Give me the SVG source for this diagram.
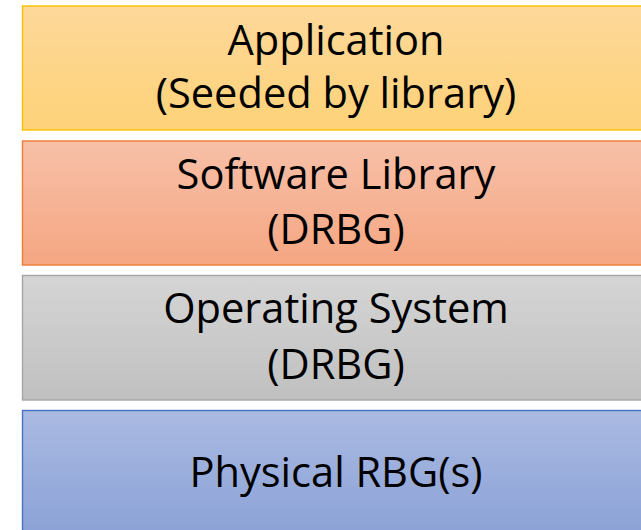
<svg xmlns="http://www.w3.org/2000/svg" width="641" height="530" viewBox="0 0 641 530">
  <defs>
    <linearGradient id="gApp" x1="0" y1="0" x2="0" y2="1">
      <stop offset="0" stop-color="#FDD899"/>
      <stop offset="1" stop-color="#FED279"/>
    </linearGradient>
    <linearGradient id="gLib" x1="0" y1="0" x2="0" y2="1">
      <stop offset="0" stop-color="#F7C0A8"/>
      <stop offset="1" stop-color="#F5A682"/>
    </linearGradient>
    <linearGradient id="gOs" x1="0" y1="0" x2="0" y2="1">
      <stop offset="0" stop-color="#D5D5D5"/>
      <stop offset="1" stop-color="#C0C0C0"/>
    </linearGradient>
    <linearGradient id="gPhy" x1="0" y1="0" x2="0" y2="1">
      <stop offset="0" stop-color="#AABAE2"/>
      <stop offset="1" stop-color="#8AA1D6"/>
    </linearGradient>
  </defs>
  <style>
    .layer { stroke-width: 1.4; }
    .label { font-family: "Open Sans", "Liberation Sans", sans-serif; font-size: 41.6px; fill: #000; text-anchor: middle; }
  </style>
  <rect width="641" height="530" fill="#FFFFFF"/>

  <g id="application">
    <rect class="layer" x="22.5" y="6" width="640" height="124" fill="url(#gApp)" stroke="#FFC000"/>
    <text class="label" x="336" y="55">Application</text>
    <text class="label" x="336" y="108">(Seeded by library)</text>
  </g>

  <g id="software-library">
    <rect class="layer" x="22.5" y="141" width="640" height="124" fill="url(#gLib)" stroke="#ED7D31"/>
    <text class="label" x="336" y="189">Software Library</text>
    <text class="label" x="336" y="244">(DRBG)</text>
  </g>

  <g id="operating-system">
    <rect class="layer" x="22.5" y="275.5" width="640" height="124.5" fill="url(#gOs)" stroke="#A5A5A5"/>
    <text class="label" x="336" y="323">Operating System</text>
    <text class="label" x="336" y="379">(DRBG)</text>
  </g>

  <g id="physical-rbg">
    <rect class="layer" x="22.5" y="410.5" width="640" height="130" fill="url(#gPhy)" stroke="#4472C4"/>
    <text class="label" x="336" y="487">Physical RBG(s)</text>
  </g>

  <g id="connectors"/>
</svg>
